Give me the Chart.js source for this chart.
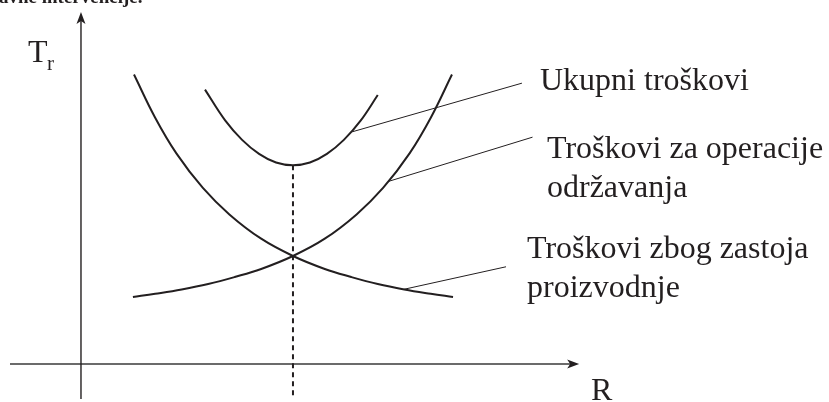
<!DOCTYPE html>
<html>
<head>
<meta charset="utf-8">
<script src="https://cdn.jsdelivr.net/npm/chart.js@4.4.1/dist/chart.umd.min.js"></script>
<style>
  html, body { margin: 0; padding: 0; background: #fff; }
  #wrap { width: 829px; height: 402px; position: relative; }
</style>
</head>
<body>
<div id="wrap"><canvas id="costChart"></canvas></div>
<script>
// R = repair interval, Tr = costs (schematic units)
const zastojR = [5.0, 7.0, 9.0, 11.5, 14.0, 17.0, 20, 23.0, 25.5, 28.0, 30.5, 33.0, 35.1];
const zastojT = [26.8, 22.8, 19.5, 16.3, 13.85, 11.6, 10, 8.8, 8.05, 7.4, 6.9, 6.5, 6.2];

const odrzavanjeR = [4.9, 7.0, 9.5, 12.0, 14.5, 17.0, 20, 23.0, 26.0, 28.5, 31.0, 33.0, 35.0];
const odrzavanjeT = [6.2, 6.5, 6.9, 7.4, 8.05, 8.8, 10, 11.6, 13.85, 16.3, 19.5, 22.8, 26.8];

const ukupniR = [11.7, 13.6, 15.2, 16.8, 18.4, 20, 21.6, 23.2, 24.8, 26.4, 28.0];
const ukupniT = [25.4, 22.55, 20.75, 19.45, 18.65, 18.4, 18.65, 19.45, 20.75, 22.55, 24.9];

// optimum: vertical dashed line from the minimum of the total down past the R axis
const optimumR = [20, 20];
const optimumT = [18.4, -3.1];

// leader lines from the curves to their labels
const leaderUkupniR = [25.6, 41.6];
const leaderUkupniT = [21.5, 26.0];
const leaderOdrzavanjeR = [29.0, 42.6];
const leaderOdrzavanjeT = [16.9, 21.0];
const leaderZastojR = [30.4, 40.1];
const leaderZastojT = [6.9, 9.0];

const labelUkupni = ['Ukupni troškovi'];
const labelOdrzavanje = ['Troškovi za operacije', 'održavanja'];
const labelZastoj = ['Troškovi zbog zastoja', 'proizvodnje'];

const ink = '#231f20';
const serif = "'Liberation Serif', 'Times New Roman', serif";

const pts = (xs, ys) => xs.map((x, i) => ({ x: x, y: ys[i] }));

const curve = (xs, ys) => ({
  data: pts(xs, ys),
  showLine: true,
  borderColor: ink,
  borderWidth: 2,
  pointRadius: 0,
  tension: 0.4,
  fill: false
});

const thin = (xs, ys) => ({
  data: pts(xs, ys),
  showLine: true,
  borderColor: ink,
  borderWidth: 1,
  pointRadius: 0,
  tension: 0,
  fill: false
});

// axes with arrow heads, drawn through the scales
const axesPlugin = {
  id: 'axes',
  beforeDatasetsDraw(chart) {
    const { ctx, scales: { x, y } } = chart;
    const x0 = x.getPixelForValue(0);
    const y0 = y.getPixelForValue(0);
    const left = x.getPixelForValue(-6.7);
    const right = x.getPixelForValue(47.0);
    const top = y.getPixelForValue(32.6);
    const bottom = y.getPixelForValue(-3.25);

    ctx.save();
    ctx.lineWidth = 1.5;
    ctx.strokeStyle = '#3a3a3a';
    ctx.beginPath();
    ctx.moveTo(left, y0);
    ctx.lineTo(right - 8, y0);
    ctx.stroke();

    ctx.strokeStyle = ink;
    ctx.lineWidth = 1.4;
    ctx.beginPath();
    ctx.moveTo(x0, bottom);
    ctx.lineTo(x0, top + 8);
    ctx.stroke();

    ctx.fillStyle = ink;
    // arrow on R
    ctx.beginPath();
    ctx.moveTo(right, y0);
    ctx.lineTo(right - 12, y0 - 4.5);
    ctx.lineTo(right - 9, y0);
    ctx.lineTo(right - 12, y0 + 4.5);
    ctx.closePath();
    ctx.fill();
    // arrow on Tr
    ctx.beginPath();
    ctx.moveTo(x0, top);
    ctx.lineTo(x0 - 4.5, top + 12);
    ctx.lineTo(x0, top + 9);
    ctx.lineTo(x0 + 4.5, top + 12);
    ctx.closePath();
    ctx.fill();
    ctx.restore();
  }
};

// texts: axis names, curve labels and the cut-off line of the page above
const textPlugin = {
  id: 'texts',
  afterDatasetsDraw(chart) {
    const { ctx } = chart;
    ctx.save();
    ctx.fillStyle = ink;
    ctx.textBaseline = 'alphabetic';
    ctx.textAlign = 'left';

    ctx.font = 'bold 19px ' + serif;
    ctx.fillText('avne intervencije.', -1, 3);

    ctx.font = '32px ' + serif;
    ctx.fillText(labelUkupni[0], 540, 90);
    ctx.fillText(labelOdrzavanje[0], 547, 158);
    ctx.fillText(labelOdrzavanje[1], 547, 197);
    ctx.fillText(labelZastoj[0], 527, 258);
    ctx.fillText(labelZastoj[1], 527, 297);

    ctx.fillText('T', 28, 62);
    ctx.font = '21px ' + serif;
    ctx.fillText('r', 47, 70);

    ctx.font = '32px ' + serif;
    ctx.fillText('R', 591, 400);
    ctx.restore();
  }
};

const dashed = thin(optimumR, optimumT);
dashed.borderDash = [5, 4];
dashed.borderWidth = 2;

new Chart(document.getElementById('costChart'), {
  type: 'scatter',
  data: {
    datasets: [
      curve(zastojR, zastojT),
      curve(odrzavanjeR, odrzavanjeT),
      curve(ukupniR, ukupniT),
      dashed,
      thin(leaderUkupniR, leaderUkupniT),
      thin(leaderOdrzavanjeR, leaderOdrzavanjeT),
      thin(leaderZastojR, leaderZastojT)
    ]
  },
  options: {
    responsive: true,
    maintainAspectRatio: false,
    animation: false,
    layout: { padding: 0 },
    plugins: {
      legend: { display: false },
      tooltip: { enabled: false }
    },
    scales: {
      x: { type: 'linear', display: false, min: -7.64, max: 70.57 },
      y: { type: 'linear', display: false, min: -3.52, max: 33.7 }
    }
  },
  plugins: [axesPlugin, textPlugin]
});
</script>
</body>
</html>
